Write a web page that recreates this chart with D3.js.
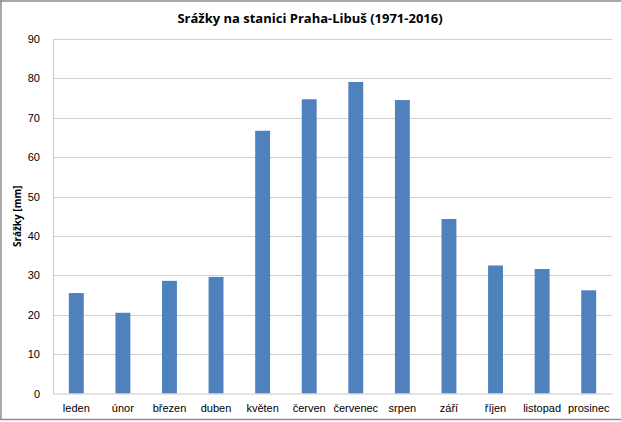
<!DOCTYPE html>
<html>
<head>
<meta charset="utf-8">
<script src="https://cdn.jsdelivr.net/npm/d3@7"></script>
<style>
  body { margin: 0; background: #fff; }
  svg { display: block; font-family: "Open Sans", "Noto Sans", sans-serif; }
  .tick text { font-size: 11px; fill: #000; }
</style>
</head>
<body>
<svg id="chart" width="621" height="422"></svg>
<script>
// data
const months = ['leden', 'únor', 'březen', 'duben', 'květen', 'červen', 'červenec', 'srpen', 'září', 'říjen', 'listopad', 'prosinec'];
const rain = [25.5, 20.5, 28.6, 29.6, 66.7, 74.7, 79.1, 74.5, 44.3, 32.5, 31.6, 26.2];
const yTicks = [0, 10, 20, 30, 40, 50, 60, 70, 80, 90];

const svg = d3.select('#chart');
const W = 621, H = 422;
const margin = { top: 39, right: 9, bottom: 28.5, left: 53 };
const width = W - margin.left - margin.right;
const height = H - margin.top - margin.bottom;

// outer frame (the right edge is cut off in the original)
const frame = svg.append('g').attr('stroke', '#8c8c8c').attr('stroke-width', 1.5);
frame.append('line').attr('x1', 0).attr('x2', W).attr('y1', 1).attr('y2', 1);
frame.append('line').attr('x1', 1).attr('x2', 1).attr('y1', 0).attr('y2', 420);
frame.append('line').attr('x1', 0).attr('x2', W).attr('y1', 419.5).attr('y2', 419.5);

const g = svg.append('g')
    .attr('transform', `translate(${margin.left}, ${margin.top})`);

const x = d3.scaleBand()
    .domain(months)
    .range([0, width])
    .paddingInner(0.68)
    .paddingOuter(0.34);

const y = d3.scaleLinear()
    .domain([0, 90])
    .range([height, 0]);

// grid
g.append('g')
    .selectAll('line')
    .data(yTicks.slice(1))
    .join('line')
    .attr('x1', 0).attr('x2', width)
    .attr('y1', d => Math.round(y(d)) + 0.5)
    .attr('y2', d => Math.round(y(d)) + 0.5)
    .attr('stroke', '#d0d0d0');

// y axis
const yAxis = g.append('g')
    .call(d3.axisLeft(y).tickValues(yTicks).tickSize(0).tickPadding(13));
yAxis.select('.domain').attr('stroke', '#c8c8c8');

// bars
g.append('g')
    .selectAll('rect')
    .data(rain)
    .join('rect')
    .attr('x', (d, i) => x(months[i]))
    .attr('y', d => y(d))
    .attr('width', x.bandwidth())
    .attr('height', d => height - y(d))
    .attr('fill', '#4f81bd');

// x axis
const xAxis = g.append('g')
    .attr('transform', `translate(0, ${height})`)
    .call(d3.axisBottom(x).tickSize(0).tickPadding(11));
xAxis.select('.domain').attr('stroke', '#c8c8c8');

// title
svg.append('text')
    .attr('x', 310)
    .attr('y', 23)
    .attr('text-anchor', 'middle')
    .attr('font-size', 13)
    .attr('font-weight', 'bold')
    .text('Srážky na stanici Praha-Libuš (1971-2016)');

// y label
svg.append('text')
    .attr('transform', `translate(21, ${margin.top + height / 2}) rotate(-90)`)
    .attr('text-anchor', 'middle')
    .attr('font-size', 10)
    .attr('font-weight', 'bold')
    .text('Srážky [mm]');
</script>
</body>
</html>
